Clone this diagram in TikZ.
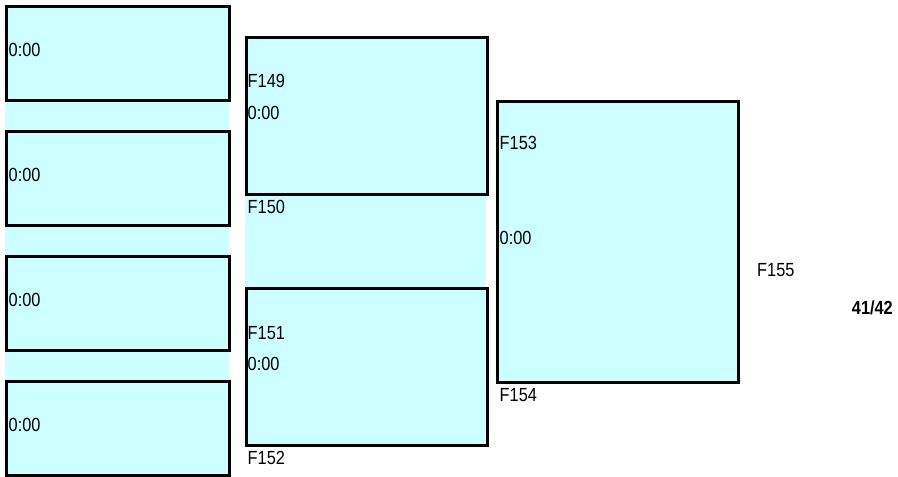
\documentclass[tikz,border=0pt]{standalone}
\usepackage{fontspec}
\setmainfont{Liberation Sans}[FakeStretch=0.86]
\usepackage{xcolor}
\usepackage{tikz}
\usetikzlibrary{positioning}
\definecolor{paleaqua}{HTML}{CCFFFF}

\begin{document}
\begin{tikzpicture}[x=1pt, y=-1pt,
        frame/.style = {draw = black, line width = 3pt, fill = paleaqua, anchor = north west, inner sep = 0pt},
        band/.style = {fill = paleaqua, draw = none},
        lbl/.style = {anchor = west, inner sep = 0pt, font = \fontsize{19}{21}\selectfont},
        pagenum/.style = {anchor = east, inner sep = 0pt, font = \fontsize{19}{21}\selectfont\bfseries}]
        \useasboundingbox (0, 0) rectangle (898, 477);

        \fill[band] (5, 5) rectangle (229, 475);
        \fill[band] (245, 36) rectangle (486, 444);

        \node[frame, minimum width = 223pt, minimum height = 94pt] (slotA) at (5, 5) {};
        \node[frame, minimum width = 223pt, minimum height = 94pt] (slotB) at (5, 130) {};
        \node[frame, minimum width = 223pt, minimum height = 94pt] (slotC) at (5, 255) {};
        \node[frame, minimum width = 223pt, minimum height = 94pt] (slotD) at (5, 380) {};

        \node[lbl] (timeA) at (8.5, 50) {0:00};
        \node[lbl] (timeB) at (8.5, 175) {0:00};
        \node[lbl] (timeC) at (8.5, 300) {0:00};
        \node[lbl] (timeD) at (8.5, 425) {0:00};

        \node[frame, minimum width = 241pt, minimum height = 157pt] (f149box) at (245, 36) {};
        \node[frame, minimum width = 241pt, minimum height = 157pt] (f151box) at (245, 287) {};

        \node[lbl] (f149) at (247.5, 81) {F149};
        \node[lbl] (time149) at (247.5, 113) {0:00};
        \node[lbl] (f150) at (247.5, 207) {F150};
        \node[lbl] (f151) at (247.5, 333) {F151};
        \node[lbl] (time151) at (247.5, 364) {0:00};
        \node[lbl] (f152) at (247.5, 458) {F152};

        \node[frame, minimum width = 241pt, minimum height = 281pt] (f153box) at (496, 100) {};

        \node[lbl] (f153) at (499.5, 143) {F153};
        \node[lbl] (time153) at (499.5, 238) {0:00};
        \node[lbl] (f154) at (499.5, 395) {F154};
        \node[lbl] (f155) at (757, 270) {F155};

        \node[pagenum] (page) at (893, 308) {41/42};
\end{tikzpicture}
\end{document}
